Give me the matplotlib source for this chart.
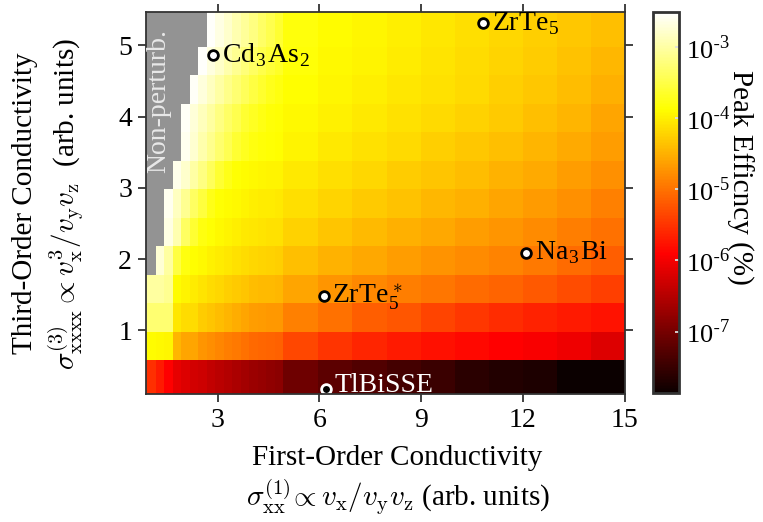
import numpy as np
import matplotlib
matplotlib.use("Agg")
import matplotlib.pyplot as plt
from matplotlib.colors import LogNorm
from matplotlib.ticker import FuncFormatter

plt.rcParams["font.family"] = ["Liberation Serif", "DejaVu Serif"]
plt.rcParams["mathtext.fontset"] = "cm"

# grid cell edges (first-order conductivity along x, third-order along y)
x_edges = [0.88, 1.17, 1.42, 1.67, 1.92, 2.17, 2.43, 2.69, 2.93, 3.18, 3.43, 3.68, 3.93,
           4.18, 4.43, 4.68, 4.93, 5.95, 6.97, 8, 9, 10, 11, 12, 13, 14, 15]
y_edges = [0.1, 0.58, 0.98, 1.38, 1.78, 2.18, 2.58, 2.98, 3.38, 3.78, 4.18, 4.58, 4.98, 5.47]

# log10 of peak efficiency (%) per cell, bottom row first; None = non-perturbative
N = None
log_eff = [
    [-5.53, -5.70, -5.91, -6.10, -6.19, -6.26, -6.32, -6.39, -6.45, -6.51, -6.58, -6.64, -6.71,
     -6.75, -6.79, -6.83, -7.06, -7.20, -7.30, -7.40, -7.48, -7.60, -7.67, -7.72, -7.85, -7.90],
    [-3.90, -3.92, -3.95, -4.47, -4.59, -4.60, -4.72, -4.79, -4.85, -4.90, -4.95, -5.02, -5.08,
     -5.10, -5.12, -5.14, -5.34, -5.50, -5.62, -5.70, -5.78, -5.85, -5.91, -5.96, -6.04, -6.19],
    [-3.27, -3.27, -3.28, -4.07, -4.15, -4.16, -4.28, -4.34, -4.41, -4.47, -4.54, -4.59, -4.66,
     -4.68, -4.69, -4.70, -4.89, -5.02, -5.15, -5.23, -5.36, -5.47, -5.56, -5.64, -5.71, -5.77],
    [-3.02, -3.03, -3.10, -3.90, -3.97, -4.02, -4.10, -4.15, -4.20, -4.25, -4.30, -4.34, -4.40,
     -4.42, -4.43, -4.45, -4.60, -4.72, -4.82, -4.90, -4.98, -5.05, -5.12, -5.20, -5.30, -5.40],
    [N, -2.76, -3.02, -3.53, -3.80, -3.88, -3.93, -3.98, -4.03, -4.07, -4.11, -4.15, -4.20,
     -4.22, -4.23, -4.25, -4.38, -4.48, -4.57, -4.65, -4.73, -4.80, -4.87, -4.95, -5.05, -5.15],
    [N, N, -2.67, -2.93, -3.36, -3.61, -3.80, -3.87, -3.92, -3.96, -4.00, -4.04, -4.08,
     -4.10, -4.11, -4.12, -4.24, -4.34, -4.43, -4.50, -4.58, -4.65, -4.72, -4.80, -4.90, -5.02],
    [N, N, -2.60, -2.85, -3.10, -3.35, -3.55, -3.75, -3.85, -3.90, -3.93, -3.97, -4.00,
     -4.02, -4.03, -4.04, -4.13, -4.22, -4.30, -4.37, -4.45, -4.52, -4.60, -4.67, -4.77, -4.89],
    [N, N, N, -2.62, -2.80, -3.00, -3.20, -3.40, -3.60, -3.75, -3.85, -3.90, -3.93,
     -3.95, -3.96, -3.97, -4.05, -4.13, -4.20, -4.27, -4.34, -4.41, -4.48, -4.56, -4.65, -4.76],
    [N, N, N, N, -2.60, -2.78, -2.95, -3.12, -3.30, -3.45, -3.60, -3.72, -3.80,
     -3.84, -3.87, -3.89, -3.97, -4.05, -4.12, -4.18, -4.25, -4.32, -4.39, -4.46, -4.55, -4.66],
    [N, N, N, N, -2.57, -2.72, -2.88, -3.03, -3.18, -3.33, -3.47, -3.60, -3.70,
     -3.78, -3.83, -3.86, -3.92, -3.99, -4.05, -4.11, -4.17, -4.24, -4.31, -4.38, -4.47, -4.59],
    [N, N, N, N, N, -2.56, -2.70, -2.85, -3.00, -3.14, -3.28, -3.41, -3.53,
     -3.64, -3.73, -3.80, -3.88, -3.95, -4.00, -4.06, -4.12, -4.18, -4.25, -4.32, -4.40, -4.50],
    [N, N, N, N, N, N, -2.55, -2.68, -2.82, -2.96, -3.10, -3.23, -3.36,
     -3.48, -3.59, -3.68, -3.84, -3.92, -3.97, -4.03, -4.09, -4.15, -4.21, -4.28, -4.36, -4.44],
    [N, N, N, N, N, N, N, -2.54, -2.67, -2.80, -2.94, -3.07, -3.20,
     -3.34, -3.47, -3.60, -3.82, -3.90, -3.95, -4.01, -4.07, -4.14, -4.20, -4.26, -4.33, -4.38],
]

# materials
materials = ["Cd$_\\mathregular{3}$As$_\\mathregular{2}$", "ZrTe$_\\mathregular{5}$",
             "Na$_\\mathregular{3}$Bi", "ZrTe$_\\mathregular{5}^*$", "TlBiSSE"]
mat_x = [2.86, 10.83, 12.1, 6.13, 6.18]
mat_y = [4.87, 5.31, 2.09, 1.48, 0.175]

cbar_ticks = [1e-7, 1e-6, 1e-5, 1e-4, 1e-3]
vmin, vmax = 10 ** -7.87, 10 ** -2.51

z = np.ma.masked_invalid(10 ** np.array(log_eff, dtype=float))
cmap = plt.get_cmap("hot").copy()
cmap.set_bad("#939393")

fig = plt.figure(figsize=(7.63, 5.22), dpi=100)
ax = fig.add_axes([0.1913, 0.2443, 0.6272, 0.7327])
cax = fig.add_axes([0.8558, 0.2462, 0.0341, 0.7308])

mesh = ax.pcolormesh(x_edges, y_edges, z, cmap=cmap, norm=LogNorm(vmin=vmin, vmax=vmax))
ax.set_xlim(x_edges[0], x_edges[-1])
ax.set_ylim(y_edges[0], y_edges[-1])
ax.set_xticks([3, 6, 9, 12, 15])
ax.set_yticks([1, 2, 3, 4, 5])
ax.tick_params(direction="out", length=6, width=1.3, labelsize=20, top=True, right=True,
               color="#333333", pad=4)
for s in ax.spines.values():
    s.set_linewidth(1.3)
    s.set_color("#333333")

ax.text(1.25, 4.22, "Non-perturb.", rotation=90, ha="center", va="center",
        color="#e8e8e8", fontsize=20)

for i, name in enumerate(materials):
    dark = name == "TlBiSSE"
    ax.plot(mat_x[i], mat_y[i], "o", ms=7, mew=2,
            mfc="black" if dark else "white", mec="white" if dark else "black", clip_on=False)
    ax.text(mat_x[i] + 0.25, mat_y[i] + (0.05 if dark else 0), name, ha="left", va="center",
            fontsize=20, color="white" if dark else "black")

cb = fig.colorbar(mesh, cax=cax)
cb.minorticks_off()
cb.set_ticks(cbar_ticks)
cb.ax.yaxis.set_major_formatter(FuncFormatter(
    lambda v, p: "10$^{\\mathregular{\\text{-}%d}}$" % round(-np.log10(v))))
cb.ax.tick_params(direction="in", length=3, width=1.3, color="#dddddd", labelsize=19, pad=5)
cb.outline.set_linewidth(2)
cb.outline.set_edgecolor("#333333")
fig.text(0.970, 0.66, "Peak Efficncy (%)", rotation=270, ha="center", va="center", fontsize=21)

fig.text(0.521, 0.123, "First-Order Conductivity", ha="center", va="center", fontsize=21)
fig.text(0.521, 0.047,
         "$\\sigma_{\\mathrm{xx}}^{(1)}\\!\\propto v_{\\mathrm{x}}/v_{\\mathrm{y}}v_{\\mathrm{z}}$ (arb. units)",
         ha="center", va="center", fontsize=21)
fig.text(0.033, 0.61, "Third-Order Conductivity", ha="center", va="center",
         rotation=90, fontsize=21)
fig.text(0.087, 0.61,
         "$\\sigma_{\\mathrm{xxxx}}^{(3)} \\propto v_{\\mathrm{x}}^3/v_{\\mathrm{y}}v_{\\mathrm{z}}$  (arb. units)",
         ha="center", va="center", rotation=90, fontsize=21)

fig.savefig("out.png", dpi=100)
